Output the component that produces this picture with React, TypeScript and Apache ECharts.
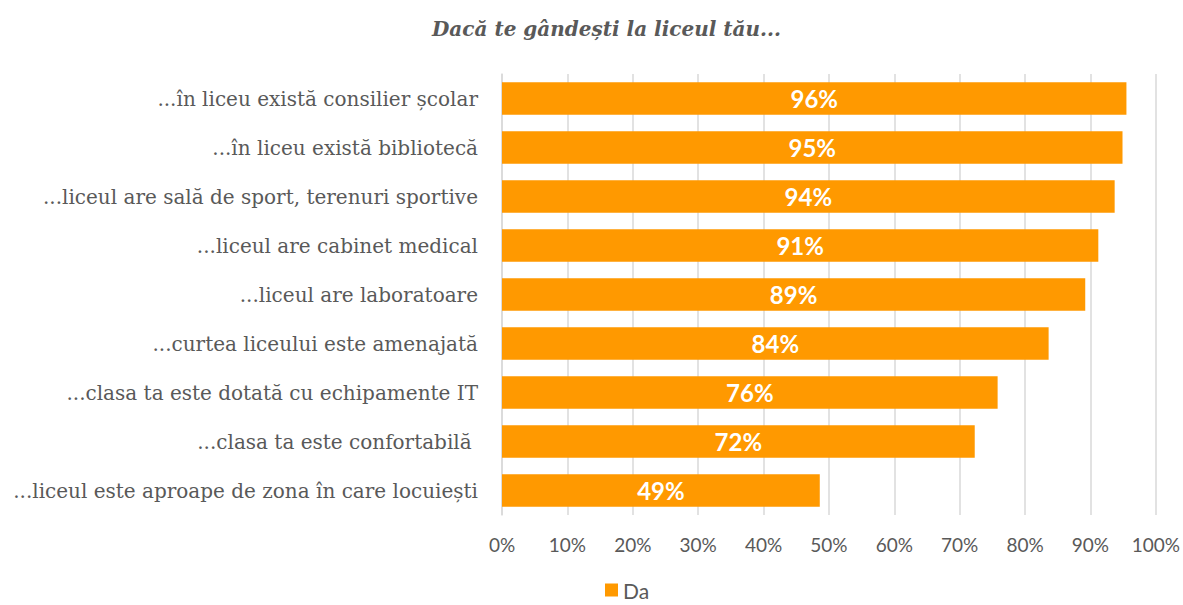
import React, { useEffect, useRef } from "react";
import * as echarts from "echarts";

const categories = [
  "...în liceu există consilier școlar",
  "...în liceu există bibliotecă",
  "...liceul are sală de sport, terenuri sportive",
  "...liceul are cabinet medical",
  "...liceul are laboratoare",
  "...curtea liceului este amenajată",
  "...clasa ta este dotată cu echipamente IT",
  "...clasa ta este confortabilă ",
  "...liceul este aproape de zona în care locuiești",
];
const values = [95.5, 94.9, 93.7, 91.2, 89.2, 83.6, 75.8, 72.3, 48.6];
const seriesName = "Da";
const title = "Dacă te gândești la liceul tău...";

export default function App() {
  const ref = useRef<HTMLDivElement>(null);
  useEffect(() => {
    if (!ref.current) return;
    const chart = echarts.init(ref.current, null, { renderer: "svg" });
    chart.setOption({
      animation: false,
      title: {
        text: title,
        left: 427,
        top: 14,
        textStyle: {
          fontFamily: "DejaVu Serif",
          fontStyle: "italic",
          fontWeight: "bold",
          fontSize: 20,
          color: "#595959",
        },
      },
      legend: {
        top: 578,
        left: 605,
        padding: 0,
        itemWidth: 13,
        itemHeight: 13,
        icon: "rect",
        textStyle: { fontFamily: "Lato", fontSize: 21, color: "#595959", lineHeight: 24 },
        data: [seriesName],
      },
      grid: { left: 502, right: 27, top: 74, bottom: 90 },
      xAxis: {
        type: "value",
        min: 0,
        max: 100,
        interval: 10,
        axisLine: { show: false },
        axisTick: { show: false },
        splitLine: { lineStyle: { color: "#d9d9d9", width: 1.5 } },
        axisLabel: {
          formatter: "{value}%",
          fontFamily: "Lato",
          fontSize: 19,
          color: "#595959",
          margin: 20,
        },
      },
      yAxis: {
        type: "category",
        data: categories,
        inverse: true,
        axisLine: { show: true, lineStyle: { color: "#d9d9d9", width: 1.5 } },
        axisTick: { show: false },
        axisLabel: {
          fontFamily: "DejaVu Serif",
          fontSize: 20,
          color: "#595959",
          margin: 24,
        },
      },
      series: [
        {
          name: seriesName,
          type: "bar",
          data: values,
          barCategoryGap: "34%",
          itemStyle: { color: "#FF9900" },
          label: {
            show: true,
            position: "inside",
            formatter: (p: any) => Math.round(p.value) + "%",
            fontFamily: "Lato",
            fontWeight: "bold",
            fontSize: 24,
            color: "#ffffff",
          },
        },
      ],
    });
    return () => chart.dispose();
  }, []);
  return <div ref={ref} style={{ width: 1183, height: 605, position: "absolute", left: 0, top: 0 }} />;
}
